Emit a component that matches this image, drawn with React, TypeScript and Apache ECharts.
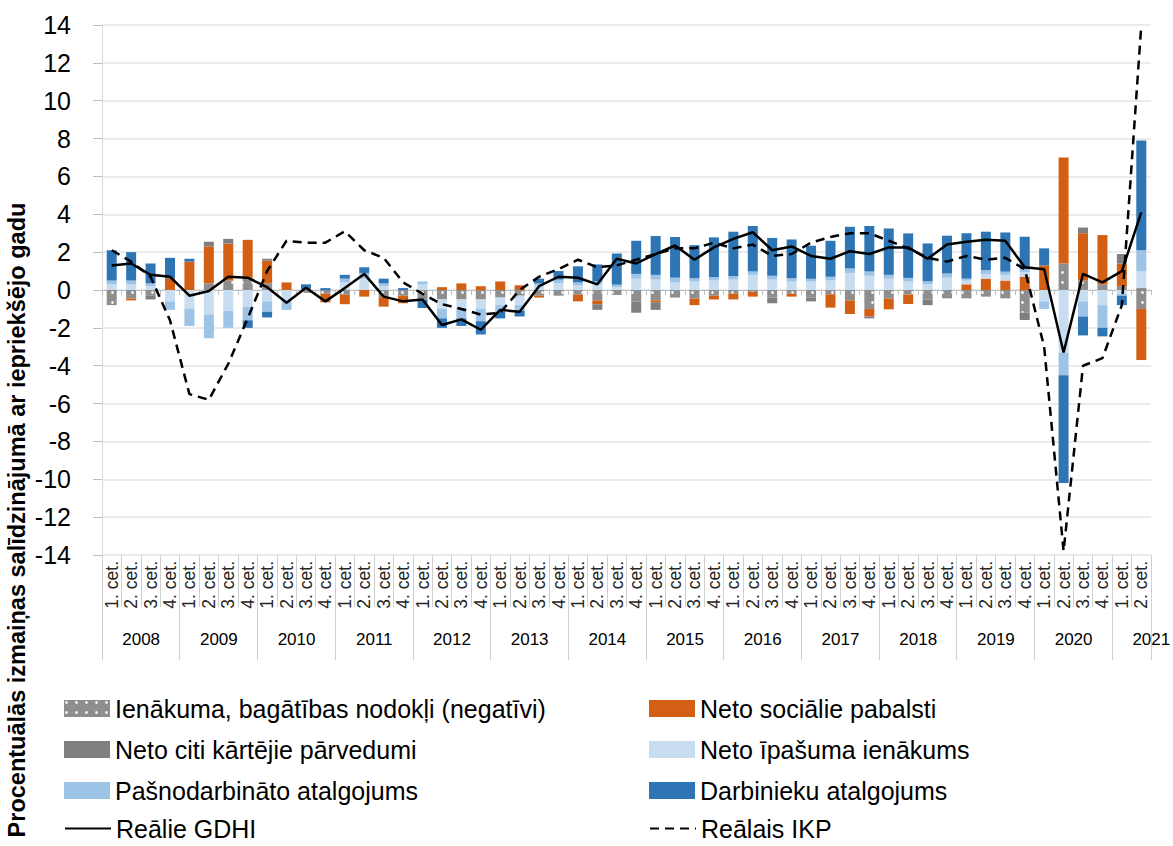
import React, { useEffect, useRef } from 'react';
import * as echarts from 'echarts';

const FONT = "'Liberation Sans', Arial, sans-serif";

const years = ['2008', '2009', '2010', '2011', '2012', '2013', '2014', '2015', '2016', '2017', '2018', '2019', '2020', '2021'];
const quarterNames = ['1. cet.', '2. cet.', '3. cet.', '4. cet.'];
const quarterCount = 54;

const taxes = [-0.8, -0.45, -0.3, 0, 0, 0.35, 0.5, 0.65, 0.35, 0, -0.15, -0.2, -0.25, 0, -0.38, -0.3, -0.5, -0.5, -0.5, -0.5, -0.4, -0.3, -0.3, -0.3, -0.25, -0.55, -0.26, -0.6, -0.55, -0.4, -0.45, -0.3, -0.2, -0.1, -0.4, -0.2, -0.4, -0.23, -0.55, -1.0, -0.45, -0.24, -0.5, -0.44, -0.44, -0.35, -0.44, -1.2, 0, 1.4, 0.5, 0.3, 0.2, -1.0];
const socialBenefits = [0, -0.1, 0, 0.6, 1.5, 1.95, 1.95, 2.0, 1.2, 0.4, 0, -0.45, -0.5, -0.35, -0.5, -0.4, 0, 0.15, 0.35, 0.2, 0.45, 0.25, -0.1, 0, -0.35, -0.2, 0, 0, -0.1, 0, -0.35, -0.2, -0.3, -0.25, 0, -0.15, 0, -0.7, -0.72, -0.4, -0.57, -0.5, 0, 0, 0.3, 0.6, 0.5, 0.7, 1.3, 5.6, 2.5, 2.6, 1.2, -2.7];
const otherTransfers = [0, 0, -0.2, 0, 0, 0.25, 0.25, 0, 0.1, 0, 0, 0, 0, 0, 0, 0, 0, 0, 0, 0, 0, 0, 0, 0, 0, -0.3, 0, -0.6, -0.4, 0, 0, 0, 0, 0, -0.3, 0, -0.2, 0, 0, -0.1, 0, 0, -0.3, 0, 0, 0, 0, -0.38, 0, 0, 0.3, 0, 0.5, 0.1];
const propertyIncome = [0.3, 0.3, 0.2, -0.6, -1.0, -1.3, -1.1, -0.9, -0.6, -0.6, 0.05, 0, 0.4, 0.6, 0.2, 0, 0.3, -0.5, -0.45, -0.5, -0.4, -0.5, 0.25, 0.35, 0.25, 0.3, 0.15, 0.6, 0.55, 0.4, 0.45, 0.5, 0.55, 0.8, 0.55, 0.45, 0.45, 0.5, 0.9, 0.75, 0.6, 0.45, 0.3, 0.65, 0.2, 0.25, 0.3, 0.25, -0.6, -3.3, -0.6, -0.8, -0.2, 0.9];
const selfEmployed = [0.2, 0.2, 0.15, -0.45, -0.9, -1.25, -0.9, -0.7, -0.55, -0.45, 0, 0, 0.2, 0.3, 0.15, 0, 0.15, -0.5, -0.55, -0.65, -0.35, -0.3, 0.1, 0.2, 0.15, 0.15, 0.13, 0.25, 0.25, 0.25, 0.17, 0.18, 0.18, 0.18, 0.2, 0.17, 0.14, 0.2, 0.24, 0.23, 0.2, 0.19, 0.16, 0.22, 0.1, 0.2, 0.17, 0.14, -0.4, -1.2, -0.8, -1.2, -0.1, 1.1];
const employees = [1.6, 1.5, 1.05, 1.1, 0.15, 0, 0, -0.4, -0.3, 0, 0.25, 0.1, 0.2, 0.3, 0.25, 0.1, -0.45, -0.5, -0.4, -0.7, -0.35, -0.3, 0.25, 0.45, 0.85, 0.9, 1.65, 1.75, 2.05, 2.15, 1.75, 2.1, 2.35, 2.4, 2.0, 2.05, 1.75, 1.9, 2.2, 2.4, 2.45, 2.35, 2.0, 2.0, 2.4, 2.03, 2.07, 1.72, 0.9, -5.7, -1.0, -0.45, -0.5, 5.8];
const realGdhi = [1.3, 1.4, 0.8, 0.7, -0.3, -0.05, 0.7, 0.65, 0.15, -0.67, 0.12, -0.6, 0.1, 0.85, -0.35, -0.6, -0.5, -1.85, -1.55, -2.1, -1.05, -1.15, 0.2, 0.7, 0.65, 0.3, 1.65, 1.4, 1.9, 2.35, 1.6, 2.25, 2.7, 3.05, 2.1, 2.3, 1.8, 1.65, 2.05, 1.9, 2.25, 2.25, 1.65, 2.4, 2.55, 2.65, 2.6, 1.2, 1.1, -3.3, 0.85, 0.4, 1.0, 4.1];
const realGdp = [2.1, 1.5, 0.7, -1.6, -5.5, -5.8, -3.9, -1.5, 1.0, 2.6, 2.5, 2.5, 3.1, 2.1, 1.7, 0.4, -0.2, -0.75, -1.0, -1.3, -1.2, 0.0, 0.7, 1.1, 1.6, 1.2, 1.3, 1.6, 1.9, 2.2, 2.2, 2.5, 2.2, 2.4, 1.8, 1.9, 2.5, 2.8, 3.0, 3.0, 2.6, 2.2, 1.7, 1.5, 1.8, 1.6, 1.7, 1.1, -3.0, -13.8, -4.0, -3.6, -0.8, 14.0];

const seriesNames = [
  'Ienākuma, bagātības nodokļi (negatīvi)',
  'Neto sociālie pabalsti',
  'Neto citi kārtējie pārvedumi',
  'Neto īpašuma ienākums',
  'Pašnodarbināto atalgojums',
  'Darbinieku atalgojums',
  'Reālie GDHI',
  'Reālais IKP',
];
const yTitle = 'Procentuālās izmaiņas salīdzinājumā ar iepriekšējo gadu';

const categories = years.flatMap((y) => quarterNames.map((q) => `${y}|${q}`)).slice(0, quarterCount);

export default function App() {
  const ref = useRef<HTMLDivElement>(null);
  useEffect(() => {
    const chart = echarts.init(ref.current as HTMLDivElement, null, { renderer: 'svg' });
    const bar = (name: string, data: number[], color: string, extra: any = {}) => ({
      name,
      type: 'bar',
      stack: 'total',
      barWidth: 10,
      xAxisIndex: 0,
      data,
      itemStyle: { color, ...extra },
    });
    const legendPos = [
      [64, 696], [649, 696],
      [64, 737], [649, 737],
      [64, 778], [649, 778],
      [64, 816], [649, 816],
    ];
    const option: any = {
      animation: false,
      textStyle: { fontFamily: FONT },
      grid: { left: 102, right: 0, top: 25, bottom: 291 },
      xAxis: [
        {
          type: 'category', data: categories, position: 'bottom',
          axisLine: { onZero: true, lineStyle: { color: '#bfbfbf', width: 1 } },
          axisTick: { show: true, interval: 0, length: 5, lineStyle: { color: '#bfbfbf' } },
          axisLabel: { show: false }, splitLine: { show: false },
        },
        {
          type: 'category', data: categories, position: 'bottom',
          axisLine: { show: false, onZero: false },
          axisTick: { show: true, interval: 0, length: 52, lineStyle: { color: '#d0d0d0' } },
          axisLabel: {
            show: true, interval: 0, rotate: 90, margin: 6, fontSize: 17.5, color: '#262626', fontFamily: FONT,
            formatter: (v: string) => v.split('|')[1],
          },
        },
        {
          type: 'category', data: categories, position: 'bottom',
          axisLine: { show: false, onZero: false },
          axisTick: { show: true, interval: (i: number) => i % 4 === 0, length: 105, lineStyle: { color: '#d0d0d0' } },
          axisLabel: {
            show: true, interval: (i: number) => i % 4 === 1, margin: 76, fontSize: 17, color: '#000', fontFamily: FONT,
            padding: [0, 0, 0, 20],
            formatter: (v: string) => v.split('|')[0],
          },
        },
      ],
      yAxis: {
        type: 'value', min: -14, max: 14, interval: 2,
        axisLine: { show: true, lineStyle: { color: '#d9d9d9' } },
        axisTick: { show: true, length: 9, lineStyle: { color: '#bfbfbf' } },
        axisLabel: { fontSize: 25, color: '#000', margin: 31, fontFamily: FONT },
        splitLine: { lineStyle: { color: '#e4e4e4', width: 1.5 } },
      },
      legend: seriesNames.map((n, i) => ({
        data: [i < 6 ? { name: n, icon: 'rect' } : { name: n }],
        left: legendPos[i][0],
        top: legendPos[i][1],
        padding: 0,
        itemWidth: 46,
        itemHeight: 17,
        itemGap: 5,
        selectedMode: false,
        ...(i >= 6 ? { itemStyle: { opacity: 0 } } : {}),
        textStyle: { fontSize: 25, color: '#000', fontFamily: FONT },
      })),
      graphic: [
        {
          type: 'text', x: 17, y: 520, rotation: Math.PI / 2,
          style: {
            text: yTitle, fontSize: 23.5, fontWeight: 'bold', fontFamily: FONT, fill: '#000',
            align: 'center', verticalAlign: 'middle',
          },
        },
      ],
      series: [
        bar(seriesNames[0], taxes, '#8e8e8e', {
          decal: { symbol: 'circle', symbolSize: 0.55, dashArrayX: 5, dashArrayY: 5, color: 'rgba(255,255,255,0.9)' },
        }),
        bar(seriesNames[1], socialBenefits, '#d35f14'),
        bar(seriesNames[2], otherTransfers, '#7f7f7f'),
        bar(seriesNames[3], propertyIncome, '#c9ddf1'),
        bar(seriesNames[4], selfEmployed, '#9dc3e6'),
        bar(seriesNames[5], employees, '#2e75b6'),
        {
          name: seriesNames[6], type: 'line', data: realGdhi, symbol: 'none', xAxisIndex: 0,
          lineStyle: { color: '#000', width: 2.5 }, itemStyle: { color: '#000' },
        },
        {
          name: seriesNames[7], type: 'line', data: realGdp, symbol: 'none', xAxisIndex: 0,
          lineStyle: { color: '#000', width: 2.5, type: [9, 6] }, itemStyle: { color: '#000' },
        },
      ],
    };
    chart.setOption(option);
    return () => chart.dispose();
  }, []);
  return (
    <div
      ref={ref}
      style={{ position: 'absolute', left: 0, top: 0, width: 1173, height: 846, background: '#fff' }}
    />
  );
}
